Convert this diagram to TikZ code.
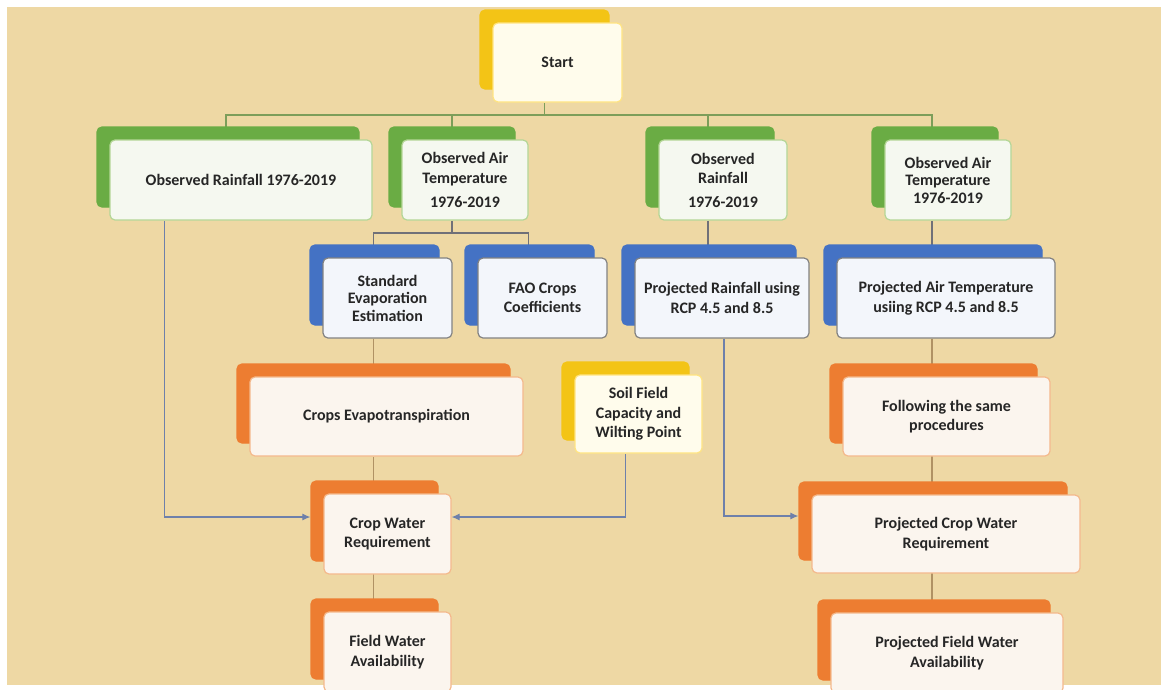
\documentclass[tikz,border=0pt]{standalone}
\usepackage{fontspec}
\setmainfont{Carlito}
\usetikzlibrary{shadows,arrows.meta,calc}
\pgfdeclarelayer{bg}
\pgfdeclarelayer{lines}
\pgfsetlayers{bg,lines,main}
\definecolor{paper}{RGB}{238,216,164}
\definecolor{yback}{RGB}{243,196,22}
\definecolor{yfront}{RGB}{255,252,236}
\definecolor{yborder}{RGB}{255,228,130}
\definecolor{gback}{RGB}{106,172,68}
\definecolor{gfront}{RGB}{245,248,240}
\definecolor{gborder}{RGB}{180,214,150}
\definecolor{bback}{RGB}{68,114,196}
\definecolor{bfront}{RGB}{243,246,251}
\definecolor{bborder}{RGB}{130,130,130}
\definecolor{oback}{RGB}{237,125,49}
\definecolor{ofront}{RGB}{251,245,238}
\definecolor{oborder}{RGB}{244,185,140}
\definecolor{glinec}{RGB}{125,158,90}
\definecolor{slinec}{RGB}{112,112,120}
\definecolor{olinec}{RGB}{176,146,100}
\definecolor{alinec}{RGB}{110,128,170}
\tikzset{
  cardbase/.style={rounded corners=5pt, align=center, inner sep=0pt,
    font=\fontsize{16}{19.5}\selectfont\bfseries, text=black!85, line width=1.2pt},
  ycard/.style={cardbase, fill=yfront, draw=yborder,
    copy shadow={shadow xshift=-13pt, shadow yshift=13pt, fill=yback, draw=yback}},
  gcard/.style={cardbase, fill=gfront, draw=gborder,
    copy shadow={shadow xshift=-13pt, shadow yshift=13pt, fill=gback, draw=gback}},
  bcard/.style={cardbase, fill=bfront, draw=bborder,
    copy shadow={shadow xshift=-13pt, shadow yshift=13pt, fill=bback, draw=bback}},
  ocard/.style={cardbase, fill=ofront, draw=oborder,
    copy shadow={shadow xshift=-13pt, shadow yshift=13pt, fill=oback, draw=oback}},
  sz/.style 2 args={minimum width=#1pt, minimum height=#2pt},
  gline/.style={draw=glinec, line width=1.2pt},
  sline/.style={draw=slinec, line width=1.1pt},
  oline/.style={draw=olinec, line width=1.1pt},
  aline/.style={draw=alinec, line width=1.1pt, -{Latex[length=8pt,width=7pt]}},
}
\begin{document}
\begin{tikzpicture}[x=1pt,y=-1pt]
\useasboundingbox (0,0) rectangle (1161,689);
\clip (0,0) rectangle (1161,689);
\begin{pgfonlayer}{bg}
  \fill[white] (0,0) rectangle (1161,689);
  \fill[paper] (7,7) rectangle (1161,685);
\end{pgfonlayer}

\node[ycard, sz={129}{79}] (start) at (557.5,62.5) {Start};

\node[gcard, sz={262}{80}] (obsR1) at (241,180) {Observed Rainfall 1976-2019};
\node[gcard, sz={126}{80}] (obsT1) at (465,180) {Observed Air\\Temperature\\[5pt]1976-2019};
\node[gcard, sz={128}{80}] (obsR2) at (723,180) {Observed\\Rainfall\\[4pt]1976-2019};
\node[gcard, sz={126}{80}] (obsT2) at (948,180) {Observed Air\\[-2pt]Temperature\\[-2pt]1976-2019};

\node[bcard, sz={129}{80}] (sev) at (387.5,298) {Standard\\[-2pt]Evaporation\\[-2pt]Estimation};
\node[bcard, sz={129}{80}] (fao) at (542.5,298) {FAO Crops\\Coefficients};
\node[bcard, sz={174}{80}] (prr) at (722,298) {Projected Rainfall using\\RCP 4.5 and 8.5};
\node[bcard, sz={218}{80}] (prt) at (946,298) {Projected Air Temperature\\usiing RCP 4.5 and 8.5};

\node[ocard, sz={273}{79}] (cet) at (386.5,416.5) {Crops Evapotranspiration};
\node[ycard, sz={127}{78}] (soil) at (638.5,414) {Soil Field\\Capacity and\\Wilting Point};
\node[ocard, sz={207}{79}] (fol) at (946.5,416.5) {Following the same\\procedures};

\node[ocard, sz={127}{80}] (cwr) at (387.5,534) {Crop Water\\Requirement};
\node[ocard, sz={268}{78}] (pcwr) at (946,534) {Projected Crop Water\\Requirement};

\node[ocard, sz={127}{80}] (fwa) at (387.5,652) {Field Water\\Availability};
\node[ocard, sz={232}{80}] (pfwa) at (947,653) {Projected Field Water\\Availability};

\begin{pgfonlayer}{lines}
  \coordinate (bus1) at (0,115);
  \coordinate (bus2) at (0,233);
  \draw[gline] ([xshift=-13pt]start.south) -- ([xshift=-13pt]start.south |- bus1);
  \draw[gline] ([xshift=-15pt]obsR1.north) -- ([xshift=-15pt]obsR1.north |- bus1)
     -- ([xshift=-16pt]obsT2.north |- bus1) -- ([xshift=-16pt]obsT2.north);
  \draw[gline] ([xshift=-13pt]obsT1.north |- bus1) -- ([xshift=-13pt]obsT1.north);
  \draw[gline] ([xshift=-15pt]obsR2.north |- bus1) -- ([xshift=-15pt]obsR2.north);

  \draw[sline] ([xshift=-13pt]obsT1.south) -- ([xshift=-13pt]obsT1.south |- bus2);
  \draw[sline] ([xshift=-14pt]sev.north) -- ([xshift=-14pt]sev.north |- bus2)
     -- ([xshift=-14pt]fao.north |- bus2) -- ([xshift=-14pt]fao.north);
  \draw[sline] ([xshift=-15pt]obsR2.south) -- ([xshift=-15pt]obsR2.south |- prr.north);
  \draw[sline] ([xshift=-16pt]obsT2.south) -- ([xshift=-16pt]obsT2.south |- prt.north);

  \draw[oline] ([xshift=-13pt]cet.south |- sev.south) -- ([xshift=-13pt]cet.north);
  \draw[oline] ([xshift=-13pt]cet.south) -- ([xshift=-13pt]cet.south |- fwa.north);
  \draw[oline] ([xshift=-14pt]prt.south) -- ([xshift=-14pt]prt.south |- pfwa.north);

  \draw[aline] ([xshift=55pt]obsR1.south west) |- ([xshift=-13pt,yshift=17pt]cwr.west);
  \draw[aline] ([xshift=-13pt]soil.south) |- ([yshift=17pt]cwr.east);
  \draw[aline] ([xshift=2pt]prr.south) |- ([xshift=-13pt,yshift=18pt]pcwr.west);
\end{pgfonlayer}
\end{tikzpicture}
\end{document}
